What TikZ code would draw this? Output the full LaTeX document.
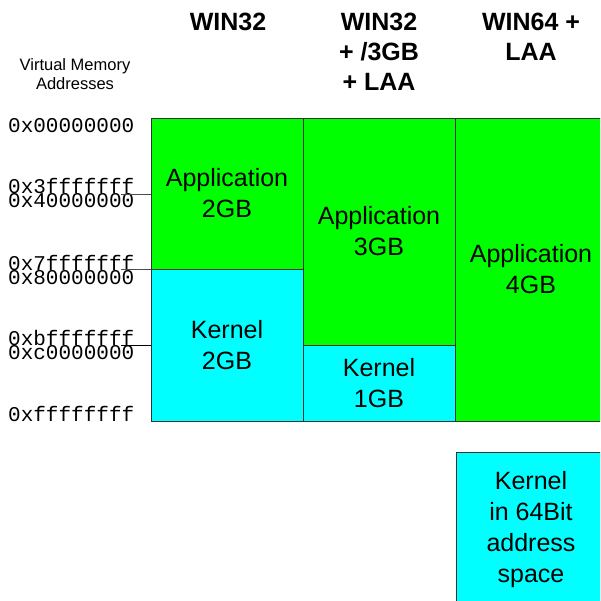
\documentclass[tikz,border=0pt]{standalone}
\usepackage{fontspec}
\setmainfont{Liberation Sans}
\newfontfamily\hexfont{Liberation Mono}
\definecolor{appgreen}{HTML}{00FF00}
\definecolor{kercyan}{HTML}{00FFFF}
\begin{document}
\begin{tikzpicture}[x=1pt,y=-1pt,
  region/.style={draw=black!80,line width=0.8pt,inner sep=0pt,outer sep=0pt,anchor=north west,
    align=center,font=\fontsize{25}{31}\selectfont},
  app/.style={region,fill=appgreen},
  ker/.style={region,fill=kercyan},
  head/.style={anchor=north,inner sep=0pt,align=center,font=\fontsize{25}{30}\selectfont\bfseries},
  hex/.style={anchor=base west,inner sep=0pt,font=\hexfont\fontsize{21}{21}\selectfont},
  tick/.style={draw=black!70,line width=0.8pt}]
\useasboundingbox (0,0) rectangle (600,601);
\clip (0,0) rectangle (600,601);
% headers
\node[head] (h1) at (228,13) {WIN32};
\node[head] (h2) at (379,13) {WIN32\\+ /3GB\\+ LAA};
\node[head] (h3) at (531,13) {WIN64 +\\LAA};
\node[align=center,inner sep=0pt,font=\fontsize{16.5}{19}\selectfont] (vm) at (75,74) {Virtual Memory\\Addresses};
% regions
\node[app,minimum width=152pt,minimum height=151pt] (a1) at (151,118) {Application\\2GB};
\node[ker,minimum width=152pt,minimum height=152pt] (k1) at (151,269) {Kernel\\2GB};
\node[app,minimum width=152pt,minimum height=227pt] (a2) at (303,118) {Application\\3GB};
\node[ker,minimum width=152pt,minimum height=76pt] (k2) at (303,345) {Kernel\\1GB};
\node[app,minimum width=152pt,minimum height=303pt] (a3) at (455,118) {Application\\4GB};
\node[ker,minimum width=150pt,minimum height=155pt] (k3) at (456,452) {Kernel\\in 64Bit\\address\\space};
% address labels
\node[hex] (x0) at (8,133) {0x00000000};
\node[hex] (x1) at (8,194) {0x3fffffff};
\node[hex] (x2) at (8,208) {0x40000000};
\node[hex] (x3) at (8,270) {0x7fffffff};
\node[hex] (x4) at (8,284) {0x80000000};
\node[hex] (x5) at (8,345) {0xbfffffff};
\node[hex] (x6) at (8,359) {0xc0000000};
\node[hex] (x7) at (8,421) {0xffffffff};
% ticks
\coordinate (t1) at (121,194);
\coordinate (t2) at (121,269);
\coordinate (t3) at (121,345);
\draw[tick] (t1) -- (a1.west |- t1);
\draw[tick] (t2) -- (a1.south west);
\draw[tick,draw=black] (t3) -- (k1.west |- t3);
\end{tikzpicture}
\end{document}
